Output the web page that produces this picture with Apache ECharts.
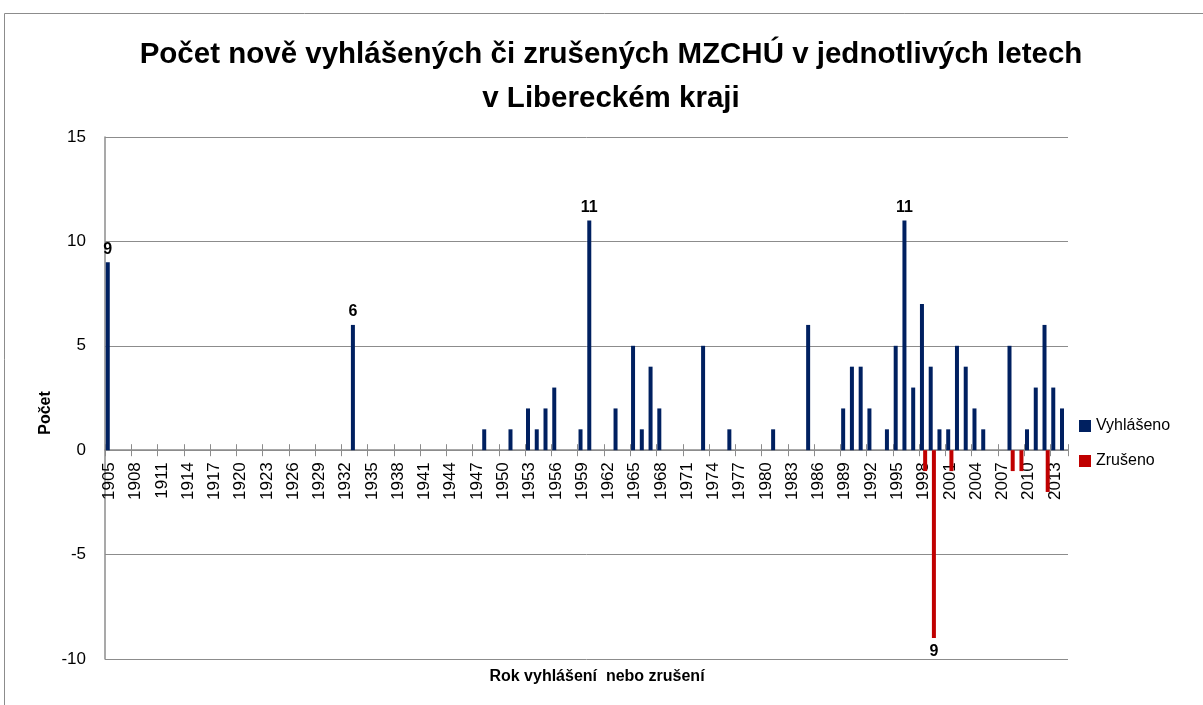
<!DOCTYPE html>
<html><head><meta charset="utf-8">
<script src="https://cdn.jsdelivr.net/npm/echarts@6/dist/echarts.min.js"></script>
<style>html,body{margin:0;padding:0;background:#fff;overflow:hidden}#c{width:1203px;height:705px}</style>
</head><body><div id="c"></div>
<script>
const years = ['1905','1906','1907','1908','1909','1910','1911','1912','1913','1914','1915','1916','1917','1918','1919','1920','1921','1922','1923','1924','1925','1926','1927','1928','1929','1930','1931','1932','1933','1934','1935','1936','1937','1938','1939','1940','1941','1942','1943','1944','1945','1946','1947','1948','1949','1950','1951','1952','1953','1954','1955','1956','1957','1958','1959','1960','1961','1962','1963','1964','1965','1966','1967','1968','1969','1970','1971','1972','1973','1974','1975','1976','1977','1978','1979','1980','1981','1982','1983','1984','1985','1986','1987','1988','1989','1990','1991','1992','1993','1994','1995','1996','1997','1998','1999','2000','2001','2002','2003','2004','2005','2006','2007','2008','2009','2010','2011','2012','2013','2014'];
const declaredYears  = ['1905','1933','1948','1951','1953','1954','1955','1956','1959','1960','1963','1965','1966','1967','1968','1973','1976','1981','1985','1989','1990','1991','1992','1994','1995','1996','1997','1998','1999','2000','2001','2002','2003','2004','2005','2008','2010','2011','2012','2013','2014'];
const declaredValues = [9,6,1,1,2,1,2,3,1,11,2,5,1,4,2,5,1,1,6,2,4,4,2,1,5,11,3,7,4,1,1,5,4,2,1,5,1,3,6,3,2];
const cancelledYears  = ['1998','1999','2001','2008','2009','2012'];
const cancelledValues = [-1,-9,-1,-1,-1,-2];
const labeledDeclared = ['1905','1933','1960','1996'];
const labeledCancelled = ['1999'];
const yMin = -10, yMax = 15, yStep = 5;

const FONT = 'Liberation Sans';
const GRID = {left: 105, right: 135, top: 137, bottom: 46};
const plotH = 705 - GRID.top - GRID.bottom;
// move the category axis from the bottom edge up to the value 0
const zeroOffset = -plotH * (0 - yMin) / (yMax - yMin);

function build(ys, vs, labeled, pos) {
  return years.map(y => {
    const i = ys.indexOf(y);
    if (i < 0) return '-';
    if (labeled.indexOf(y) >= 0) {
      return {value: vs[i], label: {show: true, position: pos}};
    }
    return vs[i];
  });
}
const labelStyle = {fontFamily: FONT, fontWeight: 'bold', fontSize: 16, color: '#000',
  formatter: p => String(Math.abs(p.value))};

const chart = echarts.init(document.getElementById('c'), null, {renderer: 'canvas'});
chart.setOption({
  animation: false,
  backgroundColor: '#fff',
  textStyle: {fontFamily: FONT},
  title: [{
    text: 'Počet nově vyhlášených či zrušených MZCHÚ v jednotlivých letech\nv Libereckém kraji',
    left: 611, top: 33, padding: 0, textAlign: 'center',
    textStyle: {fontFamily: FONT, fontSize: 29.5, fontWeight: 'bold', color: '#000', lineHeight: 44}
  }, {
    text: 'Rok vyhlášení  nebo zrušení',
    left: 597, top: 669, padding: 0, textAlign: 'center',
    textStyle: {fontFamily: FONT, fontSize: 16, fontWeight: 'bold', color: '#000'}
  }],
  graphic: [{
    type: 'rect', shape: {x: 4.5, y: 13.5, width: 1300, height: 800},
    style: {fill: 'none', stroke: '#8c8c8c', lineWidth: 1}, silent: true, z: -1
  }, {
    type: 'text', x: 46, y: 413, rotation: Math.PI / 2,
    style: {text: 'Počet', fontFamily: FONT, fontSize: 16, fontWeight: 'bold', fill: '#000',
      textAlign: 'center', textVerticalAlign: 'middle'}
  }],
  legend: {
    orient: 'vertical', left: 1079, top: 418, itemWidth: 12, itemHeight: 12, itemGap: 19,
    icon: 'rect', padding: 0,
    textStyle: {fontFamily: FONT, fontSize: 16, color: '#000'},
    data: ['Vyhlášeno', 'Zrušeno']
  },
  grid: Object.assign({containLabel: false}, GRID),
  xAxis: [{
    type: 'category', data: years, boundaryGap: true, position: 'bottom', offset: zeroOffset,
    axisLine: {show: true, onZero: false, lineStyle: {color: '#8c8c8c', width: 1.5}},
    axisTick: {show: true, interval: 2, length: 6, lineStyle: {color: '#8c8c8c'}},
    axisLabel: {interval: 2, rotate: 90, fontSize: 17, color: '#000', margin: 12, fontFamily: FONT},
    splitLine: {show: false}
  }, {
    type: 'category', data: years, boundaryGap: true, position: 'bottom', offset: zeroOffset,
    axisLine: {show: false, onZero: false},
    axisTick: {show: true, interval: 2, length: 6, inside: true, lineStyle: {color: '#8c8c8c'}},
    axisLabel: {show: false}, splitLine: {show: false}
  }],
  yAxis: {
    type: 'value', min: yMin, max: yMax, interval: yStep,
    axisLine: {show: true, lineStyle: {color: '#8c8c8c', width: 1.5}},
    axisTick: {show: false},
    axisLabel: {fontSize: 17, color: '#000', margin: 19, fontFamily: FONT},
    splitLine: {lineStyle: {color: '#8c8c8c', width: 1}}
  },
  series: [{
    name: 'Vyhlášeno', type: 'bar', barWidth: 4, barGap: '-20%',
    itemStyle: {color: '#002060'},
    label: Object.assign({show: false}, labelStyle),
    data: build(declaredYears, declaredValues, labeledDeclared, 'top')
  }, {
    name: 'Zrušeno', type: 'bar', barWidth: 4, barGap: '-20%',
    itemStyle: {color: '#C00000'},
    label: Object.assign({show: false}, labelStyle),
    data: build(cancelledYears, cancelledValues, labeledCancelled, 'bottom')
  }]
});
</script></body></html>
